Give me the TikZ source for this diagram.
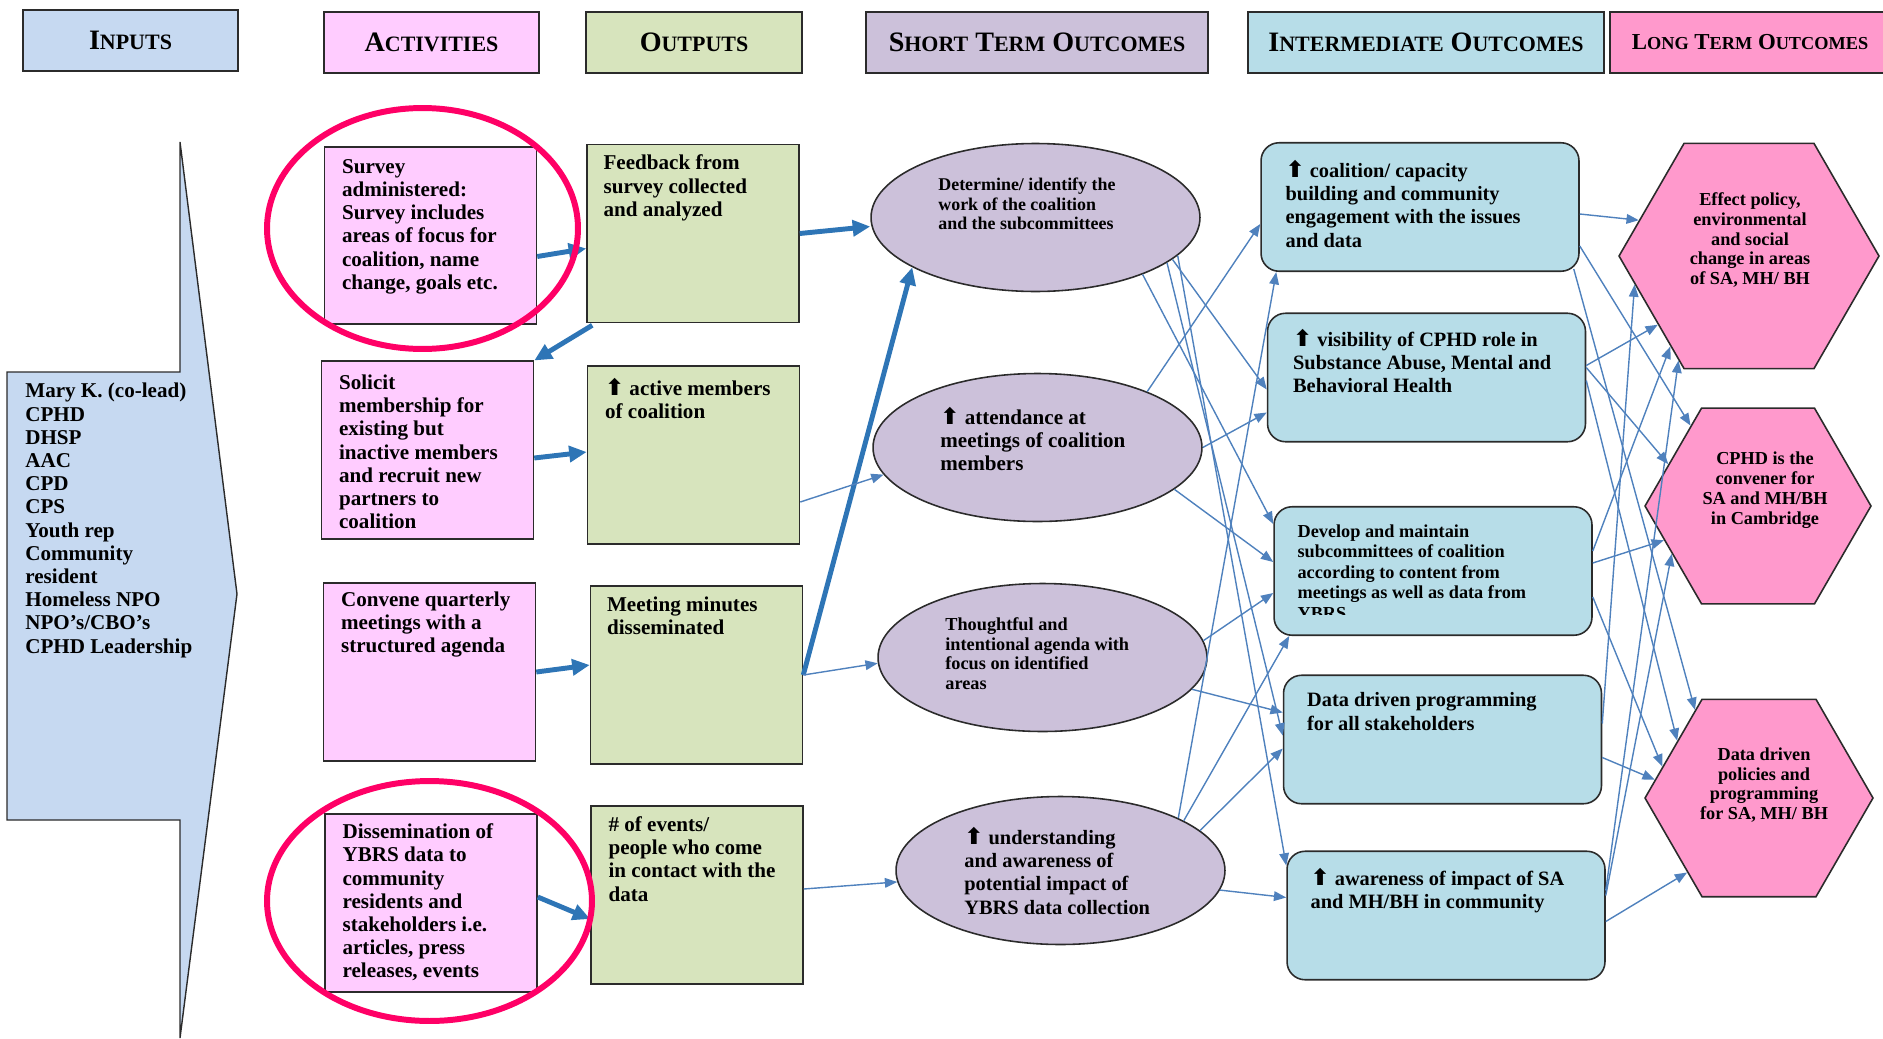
\documentclass[tikz,border=0pt]{standalone}
\usepackage{fontspec}
\setmainfont{Liberation Serif}
\newfontfamily\arrowfont{DejaVu Sans}
\usetikzlibrary{arrows.meta,calc,shapes.geometric}
\definecolor{edge}{HTML}{2B2B2B}
\definecolor{inblue}{HTML}{C6D9F1}
\definecolor{actpink}{HTML}{FFCCFF}
\definecolor{outgreen}{HTML}{D7E4BD}
\definecolor{stlilac}{HTML}{CCC1DA}
\definecolor{imblue}{HTML}{B7DDE8}
\definecolor{ltpink}{HTML}{FF99CC}
\definecolor{flowblue}{HTML}{2E75B6}
\definecolor{linkblue}{HTML}{4F81BD}
\definecolor{ringred}{HTML}{FF0066}
\newcommand{\hdsc}[1]{{\fontsize{12.5}{14}\selectfont #1}}
\newcommand{\ltsc}[1]{{\fontsize{10.4}{12}\selectfont #1}}
\newcommand{\uparr}{{\arrowfont\bfseries\fontsize{13}{10}\selectfont ⬆}}
\tikzset{
  >=Triangle,
  %% nodes
  hdr/.style      = {draw=edge, line width=1.2pt, minimum height=1.22cm, inner sep=0pt,
                     font=\bfseries\fontsize{16}{18}\selectfont},
  actbox/.style   = {draw=edge, line width=0.9pt, fill=actpink, inner sep=0pt,
                     minimum width=4.24cm, minimum height=3.55cm},
  outbox/.style   = {draw=edge, line width=0.9pt, fill=outgreen, inner sep=0pt,
                     minimum width=4.24cm, minimum height=3.56cm},
  stoval/.style   = {ellipse, draw=edge, line width=0.9pt, fill=stlilac, inner sep=0pt,
                     minimum width=6.58cm, minimum height=2.96cm},
  imbox/.style    = {rounded corners=0.36cm, draw=edge, line width=0.9pt, fill=imblue,
                     inner sep=0pt, minimum width=6.36cm, minimum height=2.57cm},
  lthex/.style    = {regular polygon, regular polygon sides=6, draw=edge, line width=0.9pt,
                     fill=ltpink, inner sep=0pt},
  ring/.style     = {ellipse, draw=ringred, line width=3.4pt, inner sep=0pt},
  %% texts
  txt/.style      = {inner sep=0pt, anchor=north west, align=left,
                     font=\bfseries\fontsize{12}{13.2}\selectfont},
  midtxt/.style   = {txt, font=\bfseries\fontsize{11.6}{13.2}\selectfont},
  smalltxt/.style = {txt, font=\bfseries\fontsize{10.4}{11.3}\selectfont},
  hextxt/.style   = {inner sep=0pt, align=center, font=\bfseries\fontsize{10.4}{11.3}\selectfont},
  %% arrows
  bigflow/.style  = {-{Triangle[length=10pt,width=9pt]}, draw=flowblue, line width=2.8pt},
  thinflow/.style = {-{Triangle[length=7pt,width=5.5pt]}, draw=linkblue, line width=0.8pt},
}

\begin{document}
\begin{tikzpicture}[x=0.02cm, y=-0.02cm]
\useasboundingbox (0,0) rectangle (1883,1038);

%% ============ column headers ============
\node[hdr, fill=inblue,   minimum width=4.30cm] (hin)  at (130.5,40.5) {I\hdsc{NPUTS}};
\node[hdr, fill=actpink,  minimum width=4.30cm] (hact) at (431.5,42.5) {A\hdsc{CTIVITIES}};
\node[hdr, fill=outgreen, minimum width=4.32cm] (hout) at (694,42.5)   {O\hdsc{UTPUTS}};
\node[hdr, fill=stlilac,  minimum width=6.84cm] (hst)  at (1037,42.5)  {S\hdsc{HORT} T\hdsc{ERM} O\hdsc{UTCOMES}};
\node[hdr, fill=imblue,   minimum width=7.12cm] (him)  at (1426,42.5)  {I\hdsc{NTERMEDIATE} O\hdsc{UTCOMES}};
\node[hdr, fill=ltpink,   minimum width=5.60cm, font=\bfseries\fontsize{13}{15}\selectfont]
     (hlt) at (1750,42.5) {L\ltsc{ONG} T\ltsc{ERM} O\ltsc{UTCOMES}};

%% ============ inputs ============
\draw[draw=edge, line width=0.8pt, fill=inblue]
   (7,372) -- (180,372) -- (180,142) -- (237,594) -- (180,1038) -- (180,820) -- (7,820) -- cycle;
\node[txt] (intxt) at (25,383) {Mary K. (co-lead)\\CPHD\\DHSP\\AAC\\CPD\\CPS\\Youth rep\\Community\\resident\\Homeless NPO\\NPO’s/CBO’s\\CPHD Leadership};

%% ============ activities ============
\node[actbox] (act1) at (430.5,235.5) {};
\node[actbox] (act2) at (427.5,450)   {};
\node[actbox] (act3) at (429.5,672)   {};
\node[actbox] (act4) at (431,903)     {};
\node[txt] (act1txt) at ($(act1.north west)+(18,13)$) {Survey\\administered:\\Survey includes\\areas of focus for\\coalition, name\\change, goals etc.};
\node[txt] (act2txt) at ($(act2.north west)+(18,14)$) {Solicit\\membership for\\existing but\\inactive members\\and recruit new\\partners to\\coalition};
\node[txt] (act3txt) at ($(act3.north west)+(18,9)$)  {Convene quarterly\\meetings with a\\structured agenda};
\node[txt] (act4txt) at ($(act4.north west)+(18,10)$) {Dissemination of\\YBRS data to\\community\\residents and\\stakeholders i.e.\\articles, press\\releases, events};

%% ============ outputs ============
\node[outbox] (out1) at (693,233.5) {};
\node[outbox] (out2) at (693.5,455) {};
\node[outbox] (out3) at (696.5,675) {};
\node[outbox] (out4) at (697,895)   {};
\node[txt] (out1txt) at ($(out1.north west)+(17,11)$) {Feedback from\\survey collected\\and analyzed};
\node[txt] (out2txt) at ($(out2.north west)+(18,13)$) {\uparr\ active members\\of coalition};
\node[txt] (out3txt) at ($(out3.north west)+(17,11)$) {Meeting minutes\\disseminated};
\node[txt] (out4txt) at ($(out4.north west)+(18,11)$) {\# of events/\\people who come\\in contact with the\\data};

%% ============ short term ============
\node[stoval] (st1) at (1035.5,217.5) {};
\node[stoval] (st2) at (1037.5,447.5) {};
\node[stoval] (st3) at (1042.5,657.5) {};
\node[stoval] (st4) at (1060.5,870.5) {};
\node[smalltxt, font=\bfseries\fontsize{10.2}{10.9}\selectfont] (st1txt) at ($(st1.center)+(-97.5,-39.5)$) {Determine/ identify the\\work of the coalition\\and the subcommittees};
\node[txt] (st2txt) at ($(st2.center)+(-97.5,-40.5)$) {\uparr\ attendance at\\meetings of coalition\\members};
\node[smalltxt] (st3txt) at ($(st3.center)+(-97.5,-40.5)$) {Thoughtful and\\intentional agenda with\\focus on identified\\areas};
\node[midtxt] (st4txt) at ($(st4.center)+(-96.5,-43.5)$) {\uparr\ understanding\\and awareness of\\potential impact of\\YBRS data collection};

%% ============ intermediate ============
\node[imbox] (im1) at (1420,207)     {};
\node[imbox] (im2) at (1426.5,377.5) {};
\node[imbox] (im3) at (1433,571)     {};
\node[imbox] (im4) at (1442.5,739.5) {};
\node[imbox] (im5) at (1446,915.5)   {};
\node[midtxt] (im1txt) at ($(im1.north west)+(25,18)$) {\uparr\ coalition/ capacity\\building and community\\engagement with the issues\\and data};
\node[midtxt] (im2txt) at ($(im2.north west)+(26,16)$) {\uparr\ visibility of CPHD role in\\Substance Abuse, Mental and\\Behavioral Health};
\begin{scope}
  \clip (im3.north west) rectangle ($(im3.south east)+(0,-22)$);
  \node[smalltxt, font=\bfseries\fontsize{10.4}{11.7}\selectfont] (im3txt) at ($(im3.north west)+(24,18)$) {Develop and maintain\\subcommittees of coalition\\according to content from\\meetings as well as data from\\YBRS};
\end{scope}
\node[midtxt] (im4txt) at ($(im4.north west)+(24,18)$) {Data driven programming\\for all stakeholders};
\node[midtxt] (im5txt) at ($(im5.north west)+(24,17)$) {\uparr\ awareness of impact of SA\\and MH/BH in community};

%% ============ long term ============
\node[lthex, minimum size=5.2cm]  (lt1) at (1749,256) {};
\node[lthex, minimum size=4.52cm] (lt2) at (1758,506) {};
\node[lthex, minimum size=4.56cm] (lt3) at (1759,798) {};
\node[hextxt] (lt1txt) at ($(lt1.center)+(1,-16)$) {Effect policy,\\environmental\\and social\\change in areas\\of SA, MH/ BH};
\node[hextxt] (lt2txt) at ($(lt2.center)+(7,-16)$) {CPHD is the\\convener for\\SA and MH/BH\\in Cambridge};
\node[hextxt] (lt3txt) at ($(lt3.center)+(5,-13)$) {Data driven\\policies and\\programming\\for SA, MH/ BH};

%% ============ activities -> outputs ============
\draw[bigflow] ($(act1.east)+(0,21)$) -- ($(out1.west)+(0,15)$);
\draw[bigflow] ($(out1.south west)+(6,2)$) -- (act2.north east);
\draw[bigflow] ($(act2.east)+(0,8)$) -- ($(out2.west)+(0,-3)$);
\draw[bigflow] (act3.east) -- ($(out3.west)+(0,-10)$);
\draw[bigflow] ($(act4.east)+(0,-6)$) -- ($(out4.west)+(0,24)$);

%% ============ outputs -> short term ============
\draw[bigflow] (out1.east) -- ($(st1.west)+(0,9)$);
\draw[bigflow] (out3.east) -- (st1.202);
\draw[thinflow] ($(out2.east)+(0,47)$) -- (st2.190);
\draw[thinflow] (out3.east) -- (st3.182);
\draw[thinflow] ($(out4.east)+(0,-6)$) -- (st4.184);

%% ============ short term -> intermediate ============
\draw[thinflow] (st1.-17) -- ($(im2.west)+(0,12)$);
\draw[thinflow] (st1.-28) -- ($(im3.west)+(0,-47)$);
\draw[thinflow] (st1.-19) -- ($(im4.west)+(0,-4)$);
\draw[thinflow] (st1.-15) -- ($(im5.west)+(0,-50)$);
\draw[thinflow] (st2.27) -- ($(im1.west)+(0,17)$);
\draw[thinflow] (st2.east) -- ($(im2.west)+(0,35)$);
\draw[thinflow] (st2.-17) -- ($(im3.west)+(0,-9)$);
\draw[thinflow] (st3.6) -- ($(im3.west)+(0,22)$);
\draw[thinflow] (st3.-12) -- ($(im4.west)+(0,-27)$);
\draw[thinflow] (st4.24) -- ($(im1.south west)+(16,0)$);
\draw[thinflow] (st4.22) -- ($(im3.south west)+(16,0)$);
\draw[thinflow] (st4.16) -- ($(im4.west)+(0,9)$);
\draw[thinflow] (st4.-7) -- ($(im5.west)+(0,-18)$);

%% ============ intermediate -> long term ============
\draw[thinflow] ($(im1.east)+(0,7)$) -- (lt1.162);
\draw[thinflow] ($(im1.east)+(0,39)$) -- (lt2.130);
\draw[thinflow] ($(im1.south east)+(-6,-3)$) -- (lt3.126);
\draw[thinflow] ($(im2.east)+(0,-12)$) -- (lt1.217);
\draw[thinflow] ($(im2.east)+(0,-10)$) -- (lt2.155);
\draw[thinflow] ($(im2.east)+(0,3)$) -- (lt3.145);
\draw[thinflow] ($(im3.east)+(0,-20)$) -- (lt1.229);
\draw[thinflow] ($(im3.east)+(0,-8)$) -- (lt2.200);
\draw[thinflow] ($(im3.east)+(0,26)$) -- (lt3.162);
\draw[thinflow] ($(im4.east)+(0,-16)$) -- (lt1.194);
\draw[thinflow] ($(im4.east)+(0,18)$) -- (lt3.170);
\draw[thinflow] ($(im5.east)+(0,-25)$) -- (lt1.236);
\draw[thinflow] ($(im5.east)+(0,-20)$) -- (lt2.209);
\draw[thinflow] ($(im5.east)+(0,6)$) -- (lt3.226);

%% ============ highlight rings ============
\node[ring, minimum width=6.22cm, minimum height=4.82cm] (ring1) at (422.5,228.5) {};
\node[ring, minimum width=6.50cm, minimum height=4.80cm] (ring2) at (429.5,901) {};

\end{tikzpicture}
\end{document}
